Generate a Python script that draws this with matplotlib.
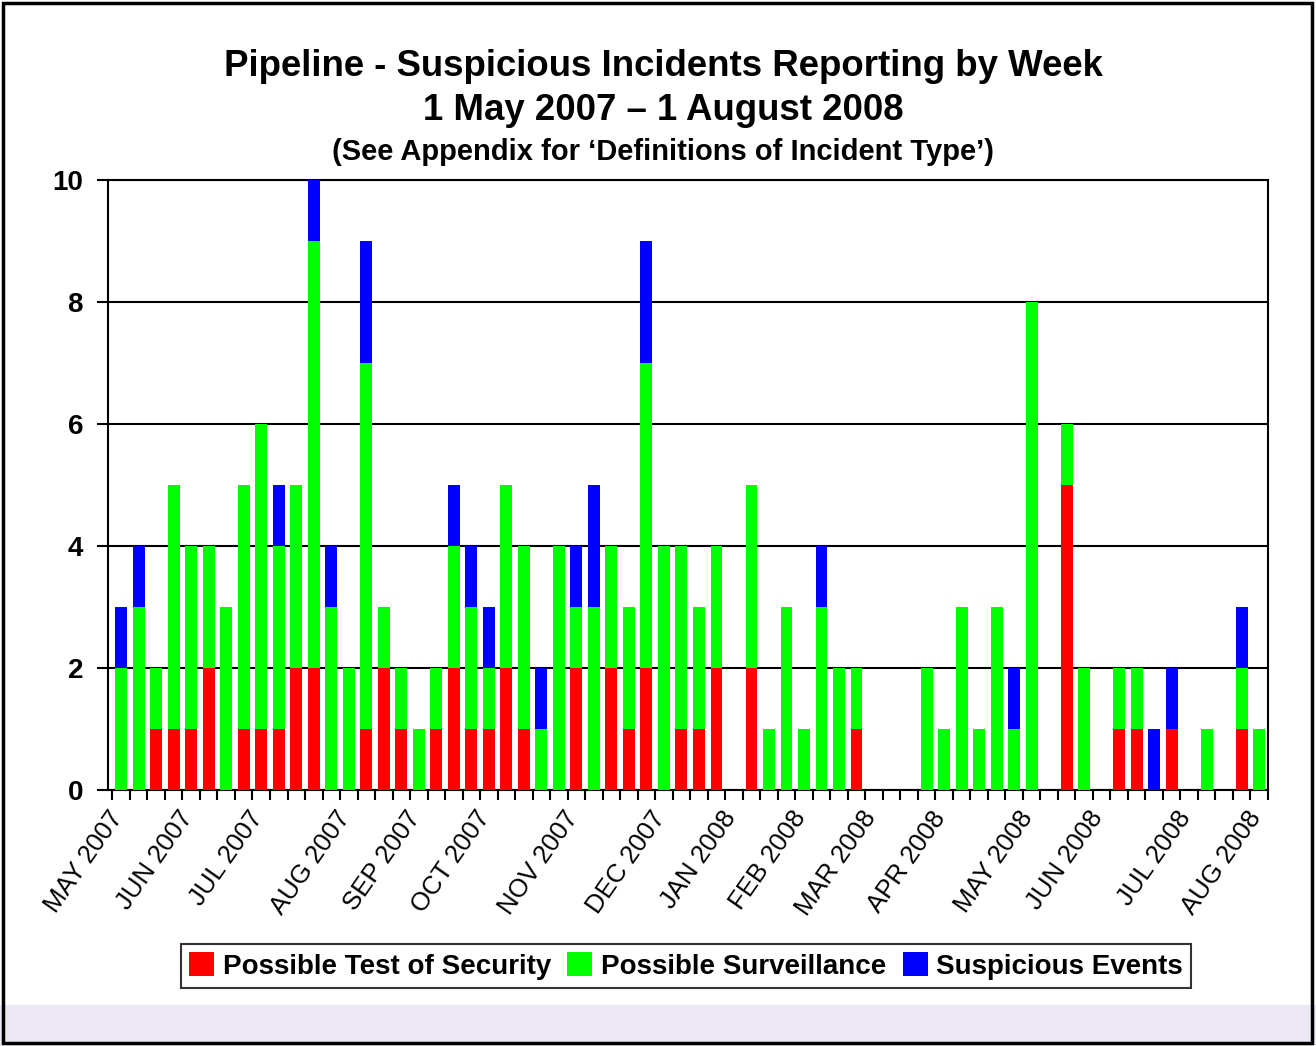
import numpy as np
import matplotlib
matplotlib.use('Agg')
import matplotlib.pyplot as plt
from matplotlib.patches import Rectangle
from matplotlib.ticker import FixedLocator

plt.rcParams['font.family'] = ['Liberation Sans', 'DejaVu Sans']

# weekly counts, 1 May 2007 - 1 Aug 2008
test_of_security = [0, 0, 1, 1, 1, 2, 0, 1, 1, 1, 2, 2, 0, 0, 1, 2, 1,
                    0, 1, 2, 1, 1, 2, 1, 0, 0, 2, 0, 2, 1, 2, 0, 1,
                    1, 2, 0, 2, 0, 0, 0, 0, 0, 1,
                    0, 0, 0, 0, 0, 0, 0,
                    0, 0, 0, 0, 5, 0, 0, 1, 1, 0, 1, 0, 0, 0, 1, 0]
surveillance = [2, 3, 1, 4, 3, 2, 3, 4, 5, 3, 3, 7, 3, 2, 6, 1, 1,
                1, 1, 2, 2, 1, 3, 3, 1, 4, 1, 3, 2, 2, 5, 4, 3,
                2, 2, 0, 3, 1, 3, 1, 3, 2, 1,
                0, 0, 0, 2, 1, 3, 1,
                3, 1, 8, 0, 1, 2, 0, 1, 1, 0, 0, 0, 1, 0, 1, 1]
suspicious = [1, 1, 0, 0, 0, 0, 0, 0, 0, 1, 0, 1, 1, 0, 2, 0, 0,
              0, 0, 1, 1, 1, 0, 0, 1, 0, 1, 2, 0, 0, 2, 0, 0,
              0, 0, 0, 0, 0, 0, 0, 1, 0, 0,
              0, 0, 0, 0, 0, 0, 0,
              0, 1, 0, 0, 0, 0, 0, 0, 0, 1, 1, 0, 0, 0, 1, 0]

month_labels = ['MAY 2007', 'JUN 2007', 'JUL 2007', 'AUG 2007', 'SEP 2007', 'OCT 2007',
                'NOV 2007', 'DEC 2007', 'JAN 2008', 'FEB 2008', 'MAR 2008', 'APR 2008',
                'MAY 2008', 'JUN 2008', 'JUL 2008', 'AUG 2008']
month_weeks = [0, 4, 8, 13, 17, 21, 26, 31, 35, 39, 43, 47, 52, 56, 61, 65]

series = [('Possible Test of Security', test_of_security, '#ff0000'),
          ('Possible Surveillance', surveillance, '#00ff00'),
          ('Suspicious Events', suspicious, '#0000ff')]

fig = plt.figure(figsize=(13.16, 10.46), dpi=100)
fig.patch.set_facecolor('white')

# lavender strip at the bottom and the outer frame
fig.patches.append(Rectangle((0, 0), 1, 0.039, transform=fig.transFigure,
                             facecolor='#ece8f3', edgecolor='none', zorder=0))
fig.patches.append(Rectangle((0.002, 0.003), 0.995, 0.994, transform=fig.transFigure,
                             facecolor='none', edgecolor='black', linewidth=2.5, zorder=5))

ax = fig.add_axes([0.0821, 0.2447, 0.8814, 0.5832])

x = np.arange(len(test_of_security))
bottom = np.zeros(len(x))
for name, vals, color in series:
    vals = np.array(vals)
    ax.bar(x, vals, width=0.68, bottom=bottom, color=color, label=name,
           edgecolor='none', zorder=3)
    bottom += vals

ax.set_xlim(-0.5, len(x) - 0.5)
ax.set_ylim(0, 10)
ax.set_yticks(np.arange(0, 11, 2))
ax.yaxis.grid(True, color='black', linewidth=1.5, zorder=1)
ax.tick_params(axis='y', length=8, width=1.5, labelsize=20, pad=10)
for lbl in ax.get_yticklabels():
    lbl.set_fontweight('bold')

# ticks between every week, month names on their own
ax.xaxis.set_minor_locator(FixedLocator(np.arange(-0.5, len(x), 1)))
ax.tick_params(axis='x', which='minor', length=7, width=1.5)
ax.set_xticks([w - 0.75 for w in month_weeks])
ax.set_xticklabels(month_labels, rotation=55, ha='right', rotation_mode='anchor', fontsize=18.5)
ax.tick_params(axis='x', which='major', length=0, pad=12)

for side in ['left', 'right', 'top', 'bottom']:
    ax.spines[side].set_linewidth(1.5)

fig.text(0.504, 1 - 67 / 1046, 'Pipeline - Suspicious Incidents Reporting by Week',
         ha='center', va='center', fontsize=26.4, fontweight='bold')
fig.text(0.504, 1 - 110 / 1046, '1 May 2007 \u2013 1 August 2008',
         ha='center', va='center', fontsize=26.4, fontweight='bold')
fig.text(0.504, 1 - 152 / 1046, '(See Appendix for \u2018Definitions of Incident Type\u2019)',
         ha='center', va='center', fontsize=21, fontweight='bold')

leg = fig.legend(loc='center', bbox_to_anchor=(686 / 1316, 1 - 966 / 1046), ncol=3,
                 prop={'size': 20, 'weight': 'bold'}, frameon=True, fancybox=False,
                 handlelength=0.9, handleheight=0.9, handletextpad=0.3, columnspacing=0.6,
                 borderpad=0.3, borderaxespad=0)
leg.get_frame().set_edgecolor('black')
leg.get_frame().set_linewidth(1.5)

plt.savefig('out.png', dpi=100)
